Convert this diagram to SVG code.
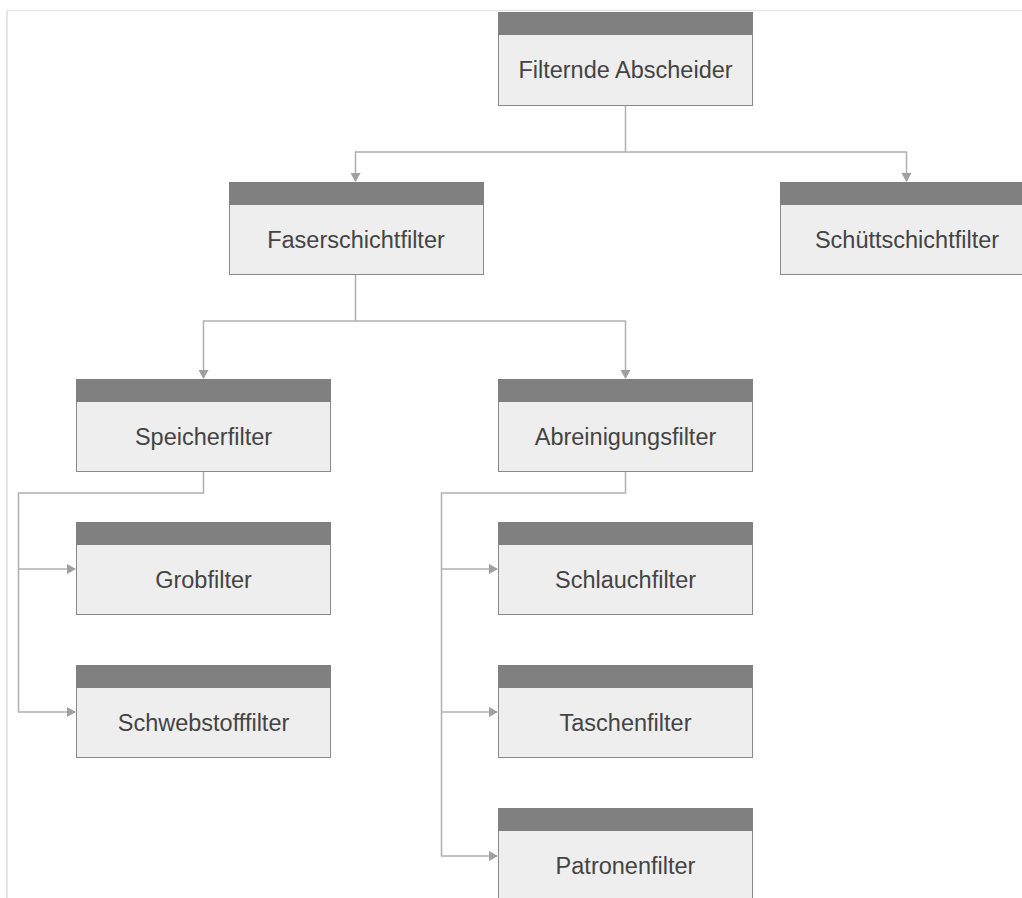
<svg xmlns="http://www.w3.org/2000/svg" width="1022" height="898" viewBox="0 0 1022 898">
<defs>
<style>
.body{fill:#eeeeee;stroke:#8a8a8a;stroke-width:1}
.head{fill:#808080}
.lbl{font-family:"Liberation Sans",Arial,sans-serif;font-size:23.5px;fill:#444444;text-anchor:middle}
.con{fill:none;stroke:#b0b0b0;stroke-width:1.5}
</style>
<marker id="arr" markerWidth="10" markerHeight="10" refX="8" refY="5" orient="auto" markerUnits="userSpaceOnUse">
<path d="M0,0 L9,5 L0,10 Z" fill="#a0a0a0"/>
</marker>
</defs>
<rect x="0" y="0" width="1022" height="898" fill="#ffffff"/>
<g id="frame">
<line x1="7" y1="10" x2="7" y2="898" stroke="#e6e6e6" stroke-width="2"/>
<line x1="6" y1="10.5" x2="1022" y2="10.5" stroke="#e6e6e6" stroke-width="1.5"/>
</g>
<g id="connectors">
<path class="con" d="M625.5,106 V152 H355.5 V181" marker-end="url(#arr)"/>
<path class="con" d="M625.5,152 H906.5 V181" marker-end="url(#arr)"/>
<path class="con" d="M355.5,275 V321 H203.5 V378" marker-end="url(#arr)"/>
<path class="con" d="M355.5,321 H625.5 V378" marker-end="url(#arr)"/>
<path class="con" d="M203.5,472 V493 H18.5 V712 H75" marker-end="url(#arr)"/>
<path class="con" d="M18.5,569 H75" marker-end="url(#arr)"/>
<path class="con" d="M625.5,472 V493 H441.5 V856 H497" marker-end="url(#arr)"/>
<path class="con" d="M441.5,569 H497" marker-end="url(#arr)"/>
<path class="con" d="M441.5,712 H497" marker-end="url(#arr)"/>
</g>
<g id="n-filternde">
<rect class="body" x="498.5" y="12.5" width="254" height="93"/>
<rect class="head" x="498" y="12" width="255" height="23"/>
<text class="lbl" x="625.5" y="78">Filternde Abscheider</text>
</g>
<g id="n-faserschicht">
<rect class="body" x="229.5" y="182.5" width="254" height="92"/>
<rect class="head" x="229" y="182" width="255" height="23"/>
<text class="lbl" x="356" y="247.5">Faserschichtfilter</text>
</g>
<g id="n-schuettschicht">
<rect class="body" x="780.5" y="182.5" width="254" height="92"/>
<rect class="head" x="780" y="182" width="255" height="23"/>
<text class="lbl" x="907" y="247.5">Schüttschichtfilter</text>
</g>
<g id="n-speicher">
<rect class="body" x="76.5" y="379.5" width="254" height="92"/>
<rect class="head" x="76" y="379" width="255" height="23"/>
<text class="lbl" x="203.5" y="444.5">Speicherfilter</text>
</g>
<g id="n-abreinigung">
<rect class="body" x="498.5" y="379.5" width="254" height="92"/>
<rect class="head" x="498" y="379" width="255" height="23"/>
<text class="lbl" x="625.5" y="444.5">Abreinigungsfilter</text>
</g>
<g id="n-grob">
<rect class="body" x="76.5" y="522.5" width="254" height="92"/>
<rect class="head" x="76" y="522" width="255" height="23"/>
<text class="lbl" x="203.5" y="587.5">Grobfilter</text>
</g>
<g id="n-schwebstoff">
<rect class="body" x="76.5" y="665.5" width="254" height="92"/>
<rect class="head" x="76" y="665" width="255" height="23"/>
<text class="lbl" x="203.5" y="730.5">Schwebstofffilter</text>
</g>
<g id="n-schlauch">
<rect class="body" x="498.5" y="522.5" width="254" height="92"/>
<rect class="head" x="498" y="522" width="255" height="23"/>
<text class="lbl" x="625.5" y="587.5">Schlauchfilter</text>
</g>
<g id="n-taschen">
<rect class="body" x="498.5" y="665.5" width="254" height="92"/>
<rect class="head" x="498" y="665" width="255" height="23"/>
<text class="lbl" x="625.5" y="730.5">Taschenfilter</text>
</g>
<g id="n-patronen">
<rect class="body" x="498.5" y="808.5" width="254" height="92"/>
<rect class="head" x="498" y="808" width="255" height="23"/>
<text class="lbl" x="625.5" y="873.5">Patronenfilter</text>
</g>
</svg>
